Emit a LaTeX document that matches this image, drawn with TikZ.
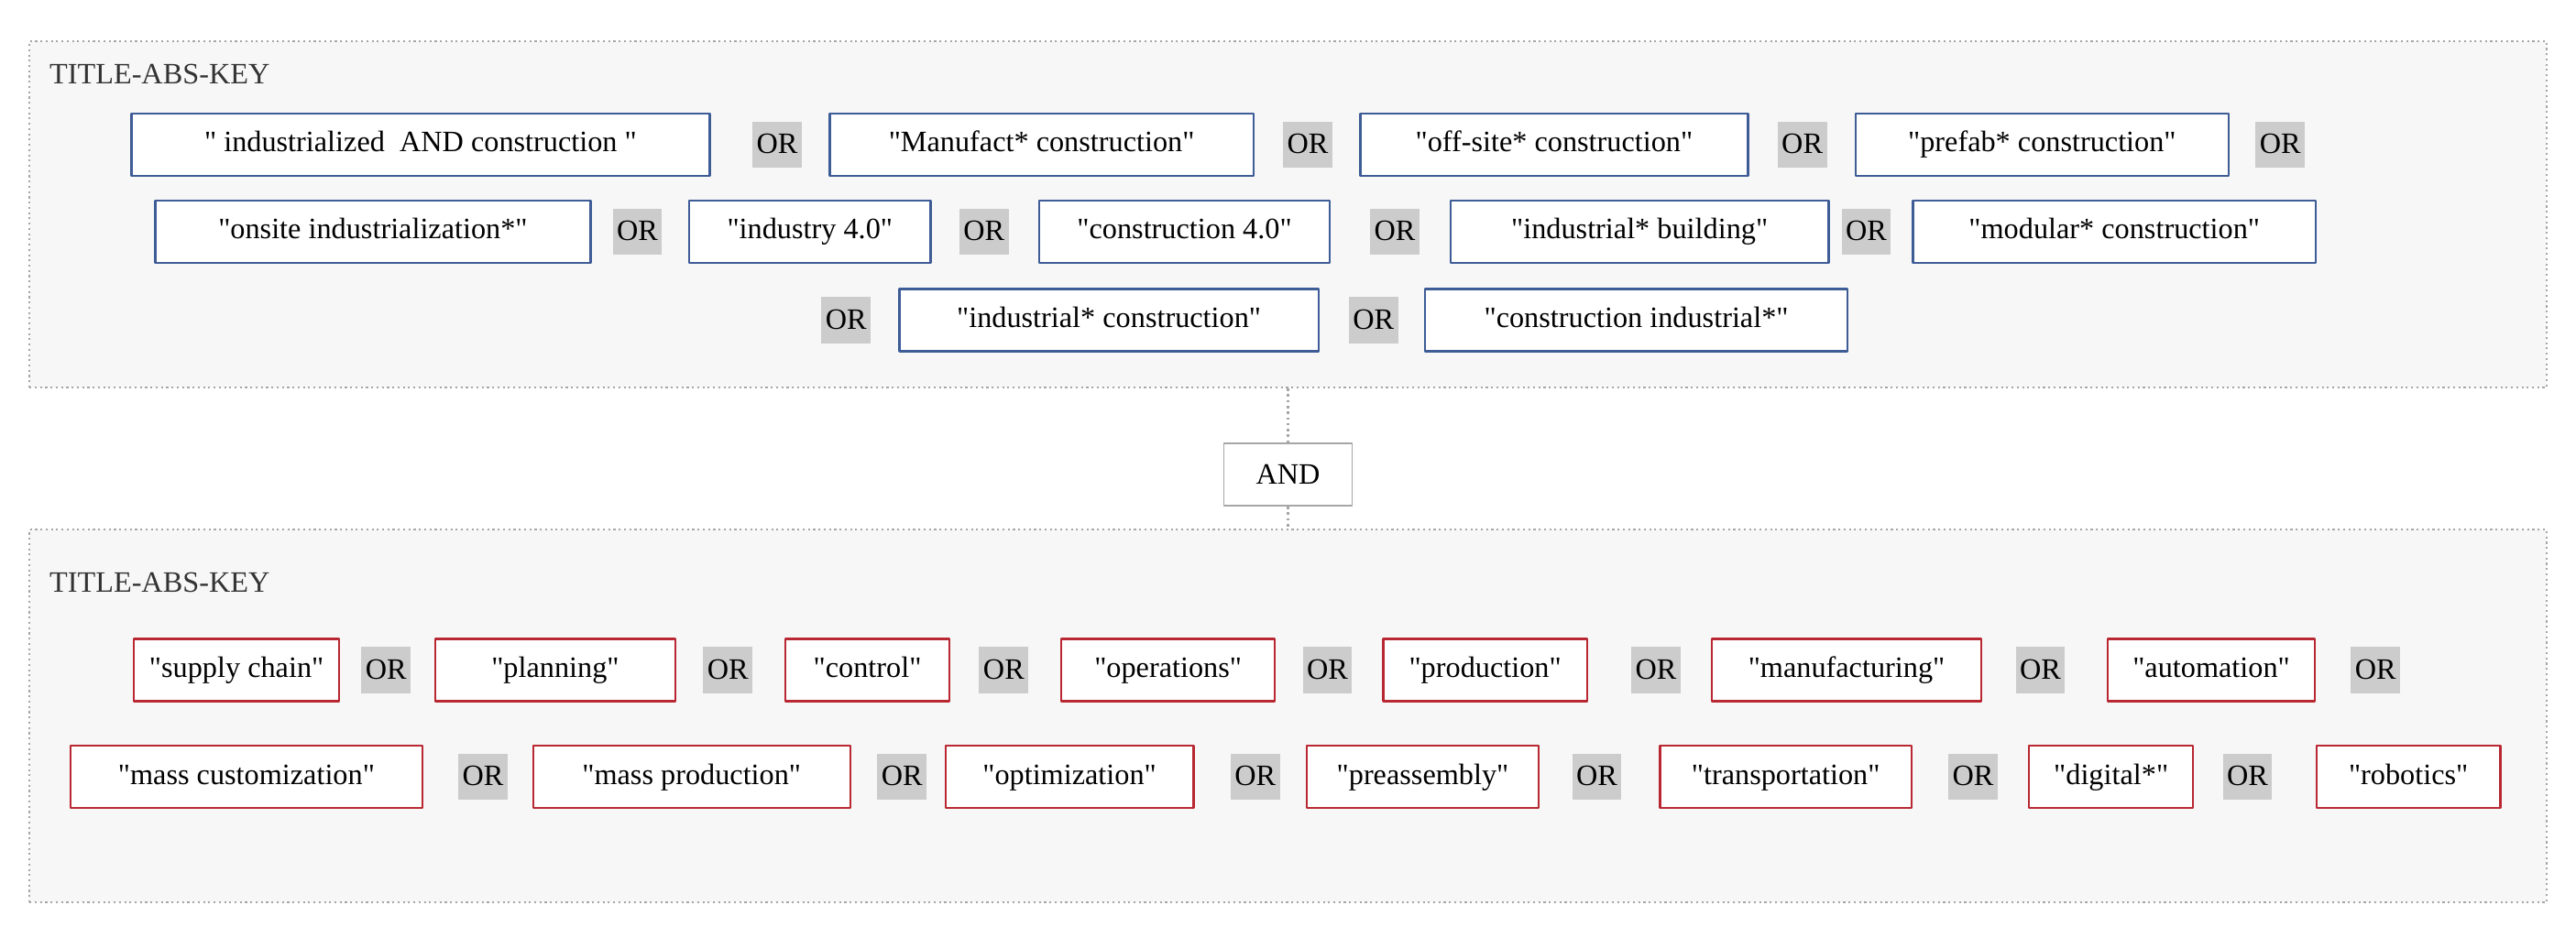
\documentclass[tikz,border=0pt]{standalone}
\usepackage{fontspec}
\setmainfont{Liberation Serif}
\usepackage{tikz}
\definecolor{qblue}{RGB}{62,92,150}
\definecolor{qred}{RGB}{185,40,50}
\newcommand{\qt}{\textquotedbl}
\tikzset{
  grp/.style={draw=gray!70,dotted,line width=1.2pt,fill=gray!6},
  term/.style={draw=#1,line width=1.3pt,fill=white,minimum height=38pt,inner sep=2pt,text height=13pt,text depth=4pt,font=\fontsize{18}{20}\selectfont},
  bterm/.style={term=qblue},
  rterm/.style={term=qred},
  ortag/.style={fill=gray!40,inner sep=2pt,minimum height=28pt,minimum width=30pt,text height=13pt,text depth=2pt,font=\fontsize{18}{20}\selectfont},
  title/.style={anchor=west,inner sep=0pt,font=\fontsize{18}{20}\selectfont,text=black!80}
}
\begin{document}
\begin{tikzpicture}[x=1pt,y=-1pt,line join=bevel]
		\useasboundingbox (0,0) rectangle (1568,564);
		% group boxes
		\node (top) [grp,minimum width=1532pt,minimum height=211pt,inner sep=0pt] at (784,130.5) {};
		\node (bot) [grp,minimum width=1532pt,minimum height=227pt,inner sep=0pt] at (784,436) {};
		\node (and) [draw=gray!70,line width=1pt,fill=white,minimum width=78pt,minimum height=38pt,font=\fontsize{18}{20}\selectfont] at (784,289) {AND};
		\draw [gray!70,dotted,line width=1.5pt] (top.south) -- (and.north);
		\draw [gray!70,dotted,line width=1.5pt] (and.south) -- (bot.north);
		\node (t1) [title] at (30,45) {TITLE-ABS-KEY};
		\node (t2) [title] at (30,355) {TITLE-ABS-KEY};
		% first block
		\node (a1) [bterm,minimum width=352pt] at (256,88) {\qt\ industrialized\ \ AND construction \qt};
		\node (o1) [ortag] at (473,88) {OR};
		\node (a2) [bterm,minimum width=258pt] at (634,88) {\qt Manufact* construction\qt};
		\node (o2) [ortag] at (796,88) {OR};
		\node (a3) [bterm,minimum width=236pt] at (946,88) {\qt off-site* construction\qt};
		\node (o3) [ortag] at (1097,88) {OR};
		\node (a4) [bterm,minimum width=227pt] at (1243,88) {\qt prefab* construction\qt};
		\node (o4) [ortag] at (1388,88) {OR};
		\node (a5) [bterm,minimum width=265pt] at (227,141) {\qt onsite industrialization*\qt};
		\node (o5) [ortag] at (388,141) {OR};
		\node (a6) [bterm,minimum width=147pt] at (493,141) {\qt industry 4.0\qt};
		\node (o6) [ortag] at (599,141) {OR};
		\node (a7) [bterm,minimum width=177pt] at (721,141) {\qt construction 4.0\qt};
		\node (o7) [ortag] at (849,141) {OR};
		\node (a8) [bterm,minimum width=230pt] at (998,141) {\qt industrial* building\qt};
		\node (o8) [ortag] at (1136,141) {OR};
		\node (a9) [bterm,minimum width=245pt] at (1287,141) {\qt modular* construction\qt};
		\node (o9) [ortag] at (515,195) {OR};
		\node (a10) [bterm,minimum width=255pt] at (675,195) {\qt industrial* construction\qt};
		\node (o10) [ortag] at (836,195) {OR};
		\node (a11) [bterm,minimum width=257pt] at (996,195) {\qt construction industrial*\qt};
		% second block
		\node (b1) [rterm,minimum width=125pt] at (144,408) {\qt supply chain\qt};
		\node (p1) [ortag] at (235,408) {OR};
		\node (b2) [rterm,minimum width=146pt] at (338,408) {\qt planning\qt};
		\node (p2) [ortag] at (443,408) {OR};
		\node (b3) [rterm,minimum width=100pt] at (528,408) {\qt control\qt};
		\node (p3) [ortag] at (611,408) {OR};
		\node (b4) [rterm,minimum width=130pt] at (711,408) {\qt operations\qt};
		\node (p4) [ortag] at (808,408) {OR};
		\node (b5) [rterm,minimum width=124pt] at (904,408) {\qt production\qt};
		\node (p5) [ortag] at (1008,408) {OR};
		\node (b6) [rterm,minimum width=164pt] at (1124,408) {\qt manufacturing\qt};
		\node (p6) [ortag] at (1242,408) {OR};
		\node (b7) [rterm,minimum width=126pt] at (1346,408) {\qt automation\qt};
		\node (p7) [ortag] at (1446,408) {OR};
		\node (b8) [rterm,minimum width=214pt] at (150,473) {\qt mass customization\qt};
		\node (p8) [ortag] at (294,473) {OR};
		\node (b9) [rterm,minimum width=193pt] at (421,473) {\qt mass production\qt};
		\node (p9) [ortag] at (549,473) {OR};
		\node (b10) [rterm,minimum width=151pt] at (651,473) {\qt optimization\qt};
		\node (p10) [ortag] at (764,473) {OR};
		\node (b11) [rterm,minimum width=141pt] at (866,473) {\qt preassembly\qt};
		\node (p11) [ortag] at (972,473) {OR};
		\node (b12) [rterm,minimum width=153pt] at (1087,473) {\qt transportation\qt};
		\node (p12) [ortag] at (1201,473) {OR};
		\node (b13) [rterm,minimum width=100pt] at (1285,473) {\qt digital*\qt};
		\node (p13) [ortag] at (1368,473) {OR};
		\node (b14) [rterm,minimum width=112pt] at (1466,473) {\qt robotics\qt};
\end{tikzpicture}
\end{document}
